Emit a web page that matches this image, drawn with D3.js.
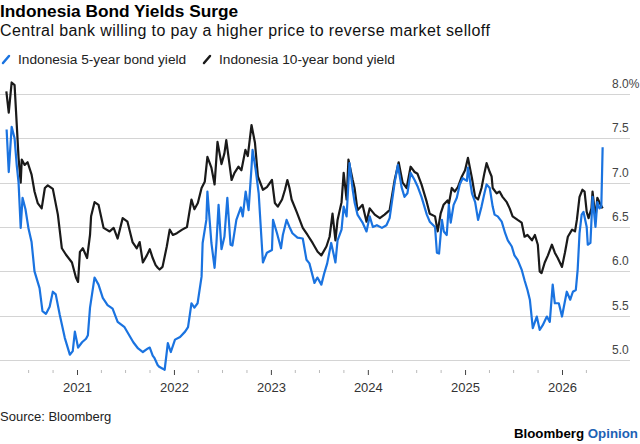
<!DOCTYPE html>
<html lang="en">
<head>
  <meta charset="UTF-8">
  <title>Indonesia Bond Yields Surge</title>
  <script src="https://cdnjs.cloudflare.com/ajax/libs/d3/7.8.5/d3.min.js"></script>
  <style>
    body {
      margin: 0;
      background: white;
      font-family: "Liberation Sans", Arial, sans-serif;
    }
    .grid line {
      stroke: #d4d4d4;
      shape-rendering: crispEdges;
    }
    .ylabel {
      font-size: 12px;
      fill: #444;
    }
    .xaxis text {
      font-size: 13px;
      fill: #333;
    }
  </style>
</head>
<body>
  <script>
    // Indonesia 10-year bond yield (%)
    var tenYear = [
      ["2020-04-10", 8.03], ["2020-04-19", 7.79], ["2020-04-30", 8.13], ["2020-05-11", 8.10],
      ["2020-05-26", 7.28], ["2020-06-03", 7.00], ["2020-06-07", 7.26], ["2020-06-18", 7.20],
      ["2020-06-29", 7.23], ["2020-07-14", 7.09], ["2020-07-25", 6.90], ["2020-08-06", 6.77],
      ["2020-08-21", 6.71], ["2020-09-02", 6.94], ["2020-09-13", 6.97], ["2020-10-02", 6.93],
      ["2020-10-21", 6.64], ["2020-11-05", 6.26], ["2020-11-20", 6.19], ["2020-12-13", 6.10],
      ["2020-12-28", 5.93], ["2021-01-05", 5.88], ["2021-01-12", 6.22], ["2021-01-23", 6.26],
      ["2021-02-08", 6.15], ["2021-02-19", 6.41], ["2021-02-23", 6.62], ["2021-03-08", 6.78],
      ["2021-03-23", 6.75], ["2021-04-11", 6.49], ["2021-05-04", 6.45], ["2021-05-19", 6.49],
      ["2021-06-03", 6.37], ["2021-06-22", 6.60], ["2021-07-10", 6.56], ["2021-07-29", 6.33],
      ["2021-08-14", 6.26], ["2021-08-25", 6.33], ["2021-09-06", 6.10], ["2021-09-21", 6.18],
      ["2021-10-02", 6.25], ["2021-10-13", 6.15], ["2021-10-24", 6.07], ["2021-11-01", 6.04],
      ["2021-11-08", 6.02], ["2021-11-19", 6.05], ["2021-12-05", 6.28], ["2021-12-16", 6.47],
      ["2021-12-28", 6.41], ["2022-01-12", 6.43], ["2022-02-01", 6.47], ["2022-02-19", 6.50],
      ["2022-03-08", 6.81], ["2022-03-19", 6.70], ["2022-04-01", 6.77], ["2022-04-15", 6.94],
      ["2022-04-27", 7.01], ["2022-05-07", 7.29], ["2022-05-22", 7.17], ["2022-06-03", 6.98],
      ["2022-06-14", 7.46], ["2022-06-29", 7.21], ["2022-07-10", 7.33], ["2022-07-17", 7.48],
      ["2022-08-06", 7.03], ["2022-08-17", 7.11], ["2022-09-01", 7.18], ["2022-09-12", 7.14],
      ["2022-09-27", 7.37], ["2022-10-06", 7.30], ["2022-10-20", 7.65], ["2022-11-02", 7.45],
      ["2022-11-13", 7.07], ["2022-12-02", 6.92], ["2022-12-17", 6.95], ["2023-01-05", 7.03],
      ["2023-01-16", 6.77], ["2023-01-27", 6.73], ["2023-02-12", 6.81], ["2023-02-23", 6.92],
      ["2023-03-04", 7.03], ["2023-03-12", 6.94], ["2023-03-20", 6.81], ["2023-04-08", 6.67],
      ["2023-05-01", 6.49], ["2023-05-19", 6.41], ["2023-06-07", 6.32], ["2023-06-26", 6.22],
      ["2023-07-10", 6.18], ["2023-07-29", 6.28], ["2023-08-10", 6.39], ["2023-08-21", 6.65],
      ["2023-09-01", 6.35], ["2023-09-09", 6.58], ["2023-09-24", 6.78], ["2023-10-02", 7.11],
      ["2023-10-13", 6.81], ["2023-10-20", 7.26], ["2023-11-05", 7.03], ["2023-11-12", 6.94],
      ["2023-11-23", 6.69], ["2023-12-12", 6.75], ["2023-12-27", 6.56], ["2024-01-08", 6.71],
      ["2024-01-27", 6.64], ["2024-02-15", 6.60], ["2024-03-04", 6.64], ["2024-03-23", 6.69],
      ["2024-04-11", 7.03], ["2024-04-26", 7.23], ["2024-05-11", 7.00], ["2024-05-26", 6.94],
      ["2024-06-10", 7.18], ["2024-06-25", 7.12], ["2024-07-06", 7.10], ["2024-07-21", 6.98],
      ["2024-08-10", 6.78], ["2024-08-21", 6.65], ["2024-09-10", 6.62], ["2024-09-20", 6.45],
      ["2024-10-01", 6.65], ["2024-10-12", 6.75], ["2024-10-27", 6.80], ["2024-11-01", 6.76],
      ["2024-11-12", 6.94], ["2024-11-23", 6.90], ["2024-12-05", 6.95], ["2024-12-20", 7.07],
      ["2025-01-01", 7.14], ["2025-01-12", 7.28], ["2025-01-27", 7.05], ["2025-02-08", 6.84],
      ["2025-02-19", 6.81], ["2025-03-04", 6.94], ["2025-03-15", 7.11], ["2025-03-23", 7.22],
      ["2025-04-04", 7.12], ["2025-04-11", 7.07], ["2025-04-15", 6.94], ["2025-04-30", 6.88],
      ["2025-05-11", 6.90], ["2025-05-22", 6.84], ["2025-06-07", 6.78], ["2025-06-18", 6.71],
      ["2025-06-29", 6.62], ["2025-07-18", 6.58], ["2025-08-02", 6.55], ["2025-08-13", 6.39],
      ["2025-08-24", 6.41], ["2025-09-10", 6.35], ["2025-09-21", 6.41], ["2025-10-02", 6.30],
      ["2025-10-09", 6.00], ["2025-10-16", 5.98], ["2025-10-28", 6.10], ["2025-11-09", 6.18],
      ["2025-11-24", 6.30], ["2025-12-05", 6.21], ["2025-12-16", 6.15], ["2026-01-01", 6.05],
      ["2026-01-12", 6.21], ["2026-01-23", 6.39], ["2026-02-08", 6.47], ["2026-02-19", 6.45],
      ["2026-02-26", 6.58], ["2026-03-08", 6.84], ["2026-03-19", 6.92], ["2026-03-27", 6.90],
      ["2026-04-04", 6.67], ["2026-04-11", 6.60], ["2026-04-22", 6.71], ["2026-04-26", 6.90],
      ["2026-05-07", 6.60], ["2026-05-14", 6.83], ["2026-05-25", 6.76], ["2026-06-03", 6.71]
    ];

    // Indonesia 5-year bond yield (%)
    var fiveYear = [
      ["2020-04-11", 7.60], ["2020-04-19", 7.12], ["2020-04-30", 7.63], ["2020-05-11", 7.50],
      ["2020-05-19", 7.20], ["2020-05-26", 7.00], ["2020-06-03", 6.49], ["2020-06-10", 6.83],
      ["2020-06-21", 6.70], ["2020-07-02", 6.49], ["2020-07-14", 6.33], ["2020-07-25", 6.00],
      ["2020-08-13", 5.81], ["2020-08-24", 5.55], ["2020-09-06", 5.52], ["2020-09-20", 5.60],
      ["2020-10-02", 5.77], ["2020-10-13", 5.74], ["2020-10-28", 5.51], ["2020-11-16", 5.25],
      ["2020-12-05", 5.06], ["2020-12-16", 5.10], ["2020-12-24", 5.32], ["2021-01-05", 5.14],
      ["2021-01-20", 5.20], ["2021-02-04", 5.24], ["2021-02-11", 5.28], ["2021-02-19", 5.59],
      ["2021-03-08", 5.93], ["2021-03-23", 5.85], ["2021-04-08", 5.70], ["2021-04-26", 5.62],
      ["2021-05-15", 5.58], ["2021-06-03", 5.43], ["2021-06-29", 5.37], ["2021-08-01", 5.20],
      ["2021-08-19", 5.13], ["2021-09-06", 5.09], ["2021-09-25", 5.13], ["2021-10-02", 5.14],
      ["2021-10-13", 5.05], ["2021-10-20", 5.02], ["2021-11-01", 4.94], ["2021-11-08", 4.92],
      ["2021-11-27", 4.89], ["2021-12-09", 5.19], ["2021-12-20", 5.09], ["2022-01-05", 5.23],
      ["2022-01-24", 5.26], ["2022-02-12", 5.32], ["2022-02-23", 5.37], ["2022-03-08", 5.64],
      ["2022-03-19", 5.59], ["2022-03-31", 5.64], ["2022-04-15", 5.94], ["2022-04-19", 6.32],
      ["2022-05-03", 6.58], ["2022-05-07", 6.90], ["2022-05-22", 6.32], ["2022-06-03", 6.04],
      ["2022-06-10", 6.32], ["2022-06-18", 6.75], ["2022-06-29", 6.25], ["2022-07-10", 6.39],
      ["2022-07-21", 6.83], ["2022-08-02", 6.30], ["2022-08-09", 6.29], ["2022-08-24", 6.58],
      ["2022-09-10", 6.72], ["2022-09-17", 6.62], ["2022-09-28", 6.90], ["2022-10-09", 6.69],
      ["2022-10-20", 7.17], ["2022-10-24", 7.37], ["2022-11-05", 7.14], ["2022-11-16", 6.88],
      ["2022-12-02", 6.10], ["2022-12-17", 6.21], ["2023-01-05", 6.24], ["2023-01-09", 6.58],
      ["2023-01-24", 6.43], ["2023-02-08", 6.26], ["2023-02-15", 6.41], ["2023-03-01", 6.58],
      ["2023-03-12", 6.50], ["2023-03-23", 6.43], ["2023-04-11", 6.38], ["2023-05-01", 6.37],
      ["2023-05-15", 6.13], ["2023-05-26", 6.09], ["2023-06-14", 5.87], ["2023-06-25", 5.93],
      ["2023-07-10", 5.85], ["2023-07-21", 5.98], ["2023-08-01", 6.09], ["2023-08-16", 6.32],
      ["2023-09-01", 6.10], ["2023-09-09", 6.35], ["2023-09-24", 6.47], ["2023-10-02", 6.73],
      ["2023-10-13", 6.62], ["2023-10-24", 7.22], ["2023-11-05", 6.92], ["2023-11-12", 6.78],
      ["2023-11-23", 6.64], ["2023-12-12", 6.55], ["2023-12-27", 6.45], ["2024-01-08", 6.62],
      ["2024-01-20", 6.50], ["2024-02-04", 6.52], ["2024-02-23", 6.49], ["2024-03-11", 6.52],
      ["2024-03-23", 6.60], ["2024-04-11", 7.00], ["2024-04-23", 7.20], ["2024-05-07", 6.95],
      ["2024-05-18", 6.84], ["2024-05-29", 6.88], ["2024-06-10", 7.11], ["2024-06-25", 7.03],
      ["2024-07-06", 6.96], ["2024-07-21", 6.84], ["2024-08-10", 6.64], ["2024-08-21", 6.56],
      ["2024-09-10", 6.50], ["2024-09-17", 6.21], ["2024-09-25", 6.20], ["2024-10-06", 6.58],
      ["2024-10-13", 6.45], ["2024-10-24", 6.41], ["2024-11-01", 6.75], ["2024-11-08", 6.55],
      ["2024-11-19", 6.75], ["2024-12-01", 6.83], ["2024-12-12", 6.98], ["2024-12-23", 7.05],
      ["2025-01-08", 7.02], ["2025-01-12", 7.17], ["2025-01-27", 6.88], ["2025-02-08", 6.78],
      ["2025-02-19", 6.58], ["2025-03-04", 6.73], ["2025-03-15", 6.88], ["2025-03-23", 6.98],
      ["2025-04-04", 6.94], ["2025-04-15", 6.73], ["2025-04-22", 6.64], ["2025-05-04", 6.62],
      ["2025-05-19", 6.56], ["2025-06-01", 6.43], ["2025-06-11", 6.35], ["2025-06-26", 6.28],
      ["2025-07-06", 6.18], ["2025-07-18", 6.13], ["2025-08-02", 6.02], ["2025-08-13", 5.90],
      ["2025-08-24", 5.79], ["2025-09-02", 5.68], ["2025-09-13", 5.36], ["2025-09-28", 5.49],
      ["2025-10-09", 5.34], ["2025-10-20", 5.39], ["2025-11-05", 5.49], ["2025-11-16", 5.43],
      ["2025-11-27", 5.85], ["2025-12-05", 5.64], ["2025-12-20", 5.64], ["2026-01-01", 5.49],
      ["2026-01-08", 5.60], ["2026-01-19", 5.77], ["2026-02-01", 5.68], ["2026-02-11", 5.77],
      ["2026-02-22", 5.79], ["2026-03-01", 6.02], ["2026-03-08", 6.43], ["2026-03-16", 6.64],
      ["2026-03-23", 6.67], ["2026-04-04", 6.50], ["2026-04-08", 6.30], ["2026-04-18", 6.32],
      ["2026-04-26", 6.84], ["2026-05-07", 6.50], ["2026-05-14", 6.78], ["2026-05-22", 6.71],
      ["2026-05-29", 6.73], ["2026-06-03", 7.40]
    ];

    var yTicks = [5.0, 5.5, 6.0, 6.5, 7.0, 7.5, 8.0];
    var yearTicks = ["2021", "2022", "2023", "2024", "2025", "2026"];

    var w = 640;
    var h = 444;
    var parse = d3.timeParse("%Y-%m-%d");

    var svg = d3.select("body").append("svg")
      .attr("width", w)
      .attr("height", h);

    var xScale = d3.scaleTime()
      .domain([parse("2021-01-01"), parse("2026-01-01")])
      .range([77, 562]);

    var yScale = d3.scaleLinear()
      .domain([5, 8])
      .range([360, 94]);

    // title block
    svg.append("text")
      .attr("x", 0)
      .attr("y", 17)
      .style("font-size", "17.3px")
      .style("font-weight", "bold")
      .attr("fill", "#000")
      .text("Indonesia Bond Yields Surge");

    svg.append("text")
      .attr("x", 0)
      .attr("y", 36)
      .style("font-size", "16px")
      .style("letter-spacing", "0.4px")
      .attr("fill", "#111")
      .text("Central bank willing to pay a higher price to reverse market selloff");

    // legend
    var legend = [
      {label: "Indonesia 5-year bond yield", color: "#1a73e0", x: 2},
      {label: "Indonesia 10-year bond yield", color: "#1a1a1a", x: 203}
    ];
    var lg = svg.selectAll(".legend")
      .data(legend)
      .enter()
      .append("g")
      .attr("transform", function(d) { return "translate(" + d.x + ",0)"; });
    lg.append("line")
      .attr("x1", 1).attr("y1", 63)
      .attr("x2", 7).attr("y2", 56)
      .attr("stroke", function(d) { return d.color; })
      .attr("stroke-width", 2.5)
      .attr("stroke-linecap", "round");
    lg.append("text")
      .attr("x", 16)
      .attr("y", 64)
      .style("font-size", "13.7px")
      .attr("fill", "#222")
      .text(function(d) { return d.label; });

    // gridlines + right labels
    var grid = svg.append("g").attr("class", "grid");
    grid.selectAll("line")
      .data(yTicks)
      .enter()
      .append("line")
      .attr("x1", 0)
      .attr("x2", 630)
      .attr("y1", function(d) { return Math.round(yScale(d)) + 0.5; })
      .attr("y2", function(d) { return Math.round(yScale(d)) + 0.5; });

    svg.selectAll(".ylabel")
      .data(yTicks)
      .enter()
      .append("text")
      .classed("ylabel", true)
      .attr("x", 612)
      .attr("y", function(d) { return yScale(d) - 6; })
      .text(function(d) { return d3.format(".1f")(d) + (d === 8 ? "%" : ""); });

    // x axis: quarterly minor ticks, yearly major ticks with labels
    var quarters = d3.timeMonth.every(3).range(parse("2020-07-01"), parse("2026-05-01"))
      .filter(function(d) { return d.getMonth() !== 0; });
    var years = yearTicks.map(function(y) { return parse(y + "-01-01"); });

    svg.append("g")
      .attr("class", "xaxis")
      .attr("transform", "translate(0,370)")
      .call(d3.axisBottom(xScale).tickValues(quarters).tickSize(3).tickFormat(""))
      .call(function(g) { g.select(".domain").remove(); })
      .selectAll("line").attr("stroke", "#bbb");

    svg.append("g")
      .attr("class", "xaxis")
      .attr("transform", "translate(0,370)")
      .call(d3.axisBottom(xScale).tickValues(years).tickSize(5).tickPadding(8)
        .tickFormat(d3.timeFormat("%Y")))
      .call(function(g) { g.select(".domain").remove(); })
      .call(function(g) { g.selectAll("text").style("font-family", "Liberation Sans, Arial, sans-serif"); })
      .selectAll("line").attr("stroke", "#444");

    // lines
    var line = d3.line()
      .x(function(d) { return xScale(parse(d[0])); })
      .y(function(d) { return yScale(d[1]); })
      .curve(d3.curveLinear);

    svg.append("path")
      .datum(tenYear)
      .attr("d", line)
      .attr("fill", "none")
      .attr("stroke", "#1a1a1a")
      .attr("stroke-width", 2.2)
      .attr("stroke-linejoin", "round");

    svg.append("path")
      .datum(fiveYear)
      .attr("d", line)
      .attr("fill", "none")
      .attr("stroke", "#1a73e0")
      .attr("stroke-width", 2.2)
      .attr("stroke-linejoin", "round");

    // footer
    svg.append("text")
      .attr("x", 0)
      .attr("y", 421)
      .style("font-size", "13px")
      .attr("fill", "#222")
      .text("Source: Bloomberg");

    var brand = svg.append("text")
      .attr("x", 638)
      .attr("y", 438)
      .attr("text-anchor", "end")
      .style("font-size", "13.3px")
      .style("font-weight", "bold");
    brand.append("tspan").attr("fill", "#000").text("Bloomberg ");
    brand.append("tspan").attr("fill", "#1d62b4").text("Opinion");
  </script>
</body>
</html>
